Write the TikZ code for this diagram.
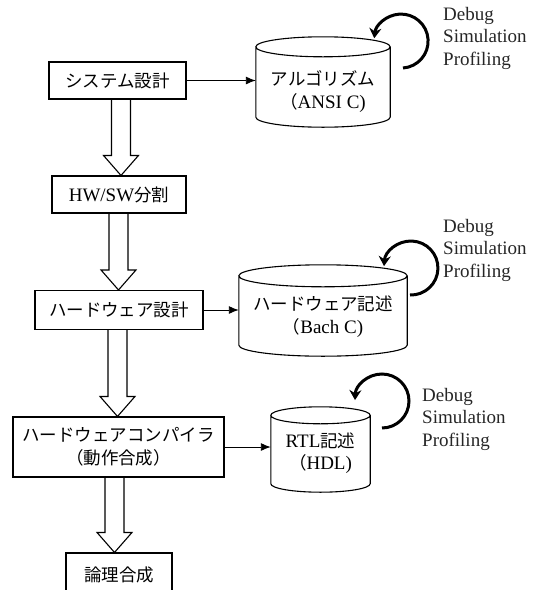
\documentclass[tikz,border=0pt]{standalone}
\usepackage{fontspec}
\setmainfont{Liberation Serif}
\newfontfamily\jp[Scale=0.92]{Noto Sans CJK JP}
\usetikzlibrary{arrows.meta,calc}
\tikzset{
 box/.style={draw, line width=1.1pt, inner sep=0pt, align=center, font=\fontsize{19}{22.5}\selectfont},
 cylbody/.style={inner sep=0pt},
 cyltext/.style={align=center, inner sep=0pt, font=\fontsize{19}{22.5}\selectfont},
 note/.style={align=left, anchor=west, inner sep=0pt, text=black!85, font=\fontsize{19}{22.5}\selectfont},
 flow/.style={line width=0.9pt, -{Latex[length=10pt,width=8pt]}},
 hollow/.style={line width=1.1pt, line join=miter},
 loopar/.style={line width=3pt, -{Stealth[length=10pt,width=12pt]}},
 cylline/.style={line width=1.1pt},
}
\newcommand\hollowarr[3]{%
 \draw[hollow] let \p1=(#1 |- #2.south), \p2=(#1 |- #3.north) in
 (\x1-9.5pt,\y1) -- (\x1-9.5pt,\y2+20pt) -- (\x1-17.5pt,\y2+20pt) -- (\x1,\y2)
 -- (\x1+17.5pt,\y2+20pt) -- (\x1+9.5pt,\y2+20pt) -- (\x1+9.5pt,\y1);
}
\newcommand\cylout[2]{%
 \draw[cylline] let \p1=(#1.north west), \p2=(#1.south east), \n1={(\x2-\x1)/2} in
 (\x1+\n1,\y1-#2pt) ellipse [x radius=\n1, y radius=#2pt]
 (\x1,\y1-#2pt) -- (\x1,\y2+#2pt) arc[start angle=180, end angle=360, x radius=\n1, y radius=#2pt] -- (\x2,\y1-#2pt);
}
\begin{document}
\begin{tikzpicture}[x=1pt,y=-1pt]
\useasboundingbox (0,0) rectangle (535,590);
\clip (0,0) rectangle (535,590);
% boxes
\node[box, minimum width=137pt, minimum height=37pt] (b1) at (117.5,80.5) {\jp システム設計};
\node[box, minimum width=134pt, minimum height=37pt] (b2) at (119,194.5) {HW/SW{\jp 分割}};
\node[box, minimum width=168pt, minimum height=39pt] (b3) at (119,310) {\jp ハードウェア設計};
\node[box, minimum width=211pt, minimum height=60pt] (b4) at (118.5,447) {\jp ハードウェアコンパイラ\\\jp （動作合成）};
\node[box, minimum width=106pt, minimum height=44pt] (b5) at (119,575) {\jp 論理合成};
% cylinders
\node[cylbody, minimum width=134pt, minimum height=90pt] (c1) at (323,82) {};
\node[cylbody, minimum width=168pt, minimum height=91pt] (c2) at (323,310.5) {};
\node[cylbody, minimum width=99pt, minimum height=85pt] (c3) at (320.5,449.5) {};
\cylout{c1}{10}
\cylout{c2}{11}
\cylout{c3}{8.5}
\node[cyltext] (c1t) at (323,91.5) {{\jp アルゴリズム}\\{\jp （}ANSI C)};
\node[cyltext] (c2t) at (323,316.5) {{\jp ハードウェア記述}\\{\jp （}Bach C)};
\node[cyltext] (c3t) at (320.5,453) {RTL{\jp 記述}\\{\jp （}HDL)};
% notes
\node[note] (n1) at (443,38) {Debug\\Simulation\\Profiling};
\node[note] (n2) at (443,250) {Debug\\Simulation\\Profiling};
\node[note] (n3) at (422,419) {Debug\\Simulation\\Profiling};
% flow arrows
\draw[flow] (b1.east) -- (b1.east -| c1.west);
\draw[flow] (b3.east) -- (b3.east -| c2.west);
\draw[flow] (b4.east) -- (b4.east -| c3.west);
% hollow arrows
\coordinate (x1) at (121,0);
\coordinate (x2) at (118.5,0);
\coordinate (x3) at (117.5,0);
\coordinate (x4) at (114.5,0);
\hollowarr{x1}{b1}{b2}
\hollowarr{x2}{b2}{b3}
\hollowarr{x3}{b3}{b4}
\hollowarr{x4}{b4}{b5}
% loops
\coordinate (l1) at (403,68);
\coordinate (l2) at (410,295);
\coordinate (l3) at (382,428);
\draw[loopar] (l1) arc[start angle=-86, end angle=174, radius=27pt];
\draw[loopar] (l2) arc[start angle=-92, end angle=176, radius=27pt];
\draw[loopar] (l3) arc[start angle=-90, end angle=178, radius=27pt];
\end{tikzpicture}
\end{document}
